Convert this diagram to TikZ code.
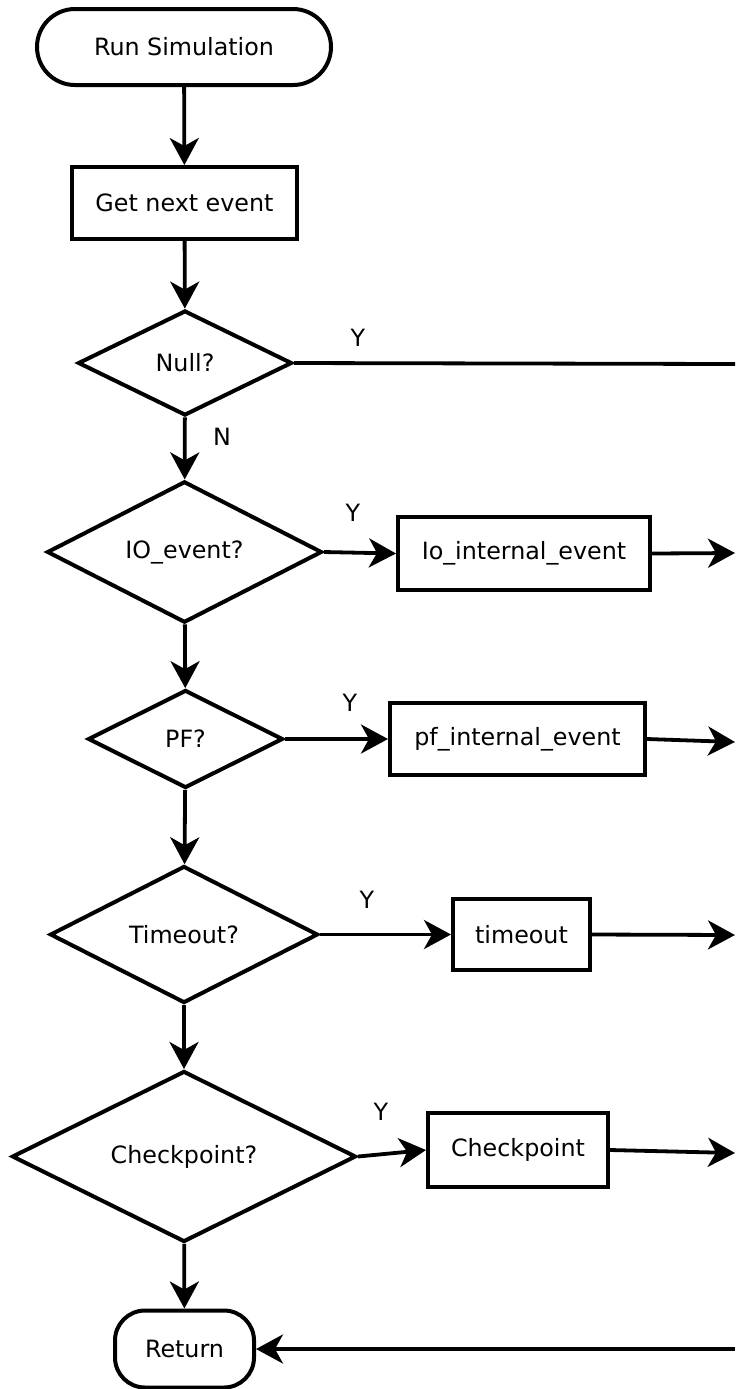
\documentclass[tikz,border=0pt]{standalone}
\usepackage{fontspec}
\setmainfont{DejaVu Sans}
\usetikzlibrary{shapes.geometric,arrows.meta}
\begin{document}
\begin{tikzpicture}[x=0.5pt,y=-0.5pt,
  txt/.style={font=\fontsize{11.9pt}{14.3pt}\selectfont},
  base/.style={txt,draw,line width=2pt,inner sep=0pt},
  term/.style={base,rectangle,rounded corners=#1},
  proc/.style={base,rectangle},
  dec/.style={base,diamond},
  flow/.style={line width=1.9pt,-{Stealth[length=13.5pt,width=14.5pt,inset=4pt]}},
  plain/.style={line width=1.9pt},
  lbl/.style={txt,inner sep=0pt}]
\useasboundingbox (0,0) rectangle (735,1389);

% main column
\node[term=19pt,minimum width=147pt,minimum height=38pt] (start) at (184,47) {Run Simulation};
\node[proc,minimum width=112.5pt,minimum height=36pt] (get) at (184.5,203) {Get next event};
\node[dec,minimum width=107pt,minimum height=52.5pt] (null) at (185,363) {Null?};
\node[dec,minimum width=137.5pt,minimum height=68pt] (io) at (184.5,552) {IO\_event?};
\node[dec,minimum width=97.5pt,minimum height=49pt] (pf) at (185.5,739) {PF?};
\node[dec,minimum width=134pt,minimum height=68.5pt] (tmo) at (184,934.5) {Timeout?};
\node[dec,minimum width=172pt,minimum height=85.5pt] (chk) at (184,1156.5) {Checkpoint?};
\node[term=15pt,minimum width=69.5pt,minimum height=38.5pt] (ret) at (184.5,1349) {Return};

% handlers
\node[proc,minimum width=126pt,minimum height=36.5pt] (ioev) at (524,553.5) {Io\_internal\_event};
\node[proc,minimum width=127.5pt,minimum height=36pt] (pfev) at (517.5,739) {pf\_internal\_event};
\node[proc,minimum width=68.5pt,minimum height=35.5pt] (tmoev) at (521.5,934.5) {timeout};
\node[proc,minimum width=90pt,minimum height=37pt] (chkev) at (518,1150) {Checkpoint};

% right-hand edge points of the return path
\coordinate (e1) at (735,364);
\coordinate (e2) at (735,553);
\coordinate (e3) at (735,742);
\coordinate (e4) at (735,935);
\coordinate (e5) at (735,1153);
\coordinate (e6) at (735,1349);

% vertical flow
\draw[flow] (start) -- (get);
\draw[flow] (get) -- (null);
\draw[flow] (null) -- (io);
\draw[flow] (io) -- (pf);
\draw[flow] (pf) -- (tmo);
\draw[flow] (tmo) -- (chk);
\draw[flow] (chk) -- (ret);

% yes branches
\draw[plain] (null.east) -- (e1);
\draw[flow] (io.east) -- (ioev.west);
\draw[flow] (ioev.east) -- (e2);
\draw[flow] (pf.east) -- (pfev.west);
\draw[flow] (pfev.east) -- (e3);
\draw[flow] (tmo.east) -- (tmoev.west);
\draw[flow] (tmoev.east) -- (e4);
\draw[flow] (chk.east) -- (chkev.west);
\draw[flow] (chkev.east) -- (e5);
\draw[flow] (e6) -- (ret.east);

% branch labels
\node[lbl] (ly1) at (358,338) {Y};
\node[lbl] (ln1) at (222,437) {N};
\node[lbl] (ly2) at (353,513) {Y};
\node[lbl] (ly3) at (350,703) {Y};
\node[lbl] (ly4) at (367,900) {Y};
\node[lbl] (ly5) at (381,1112) {Y};
\end{tikzpicture}
\end{document}
